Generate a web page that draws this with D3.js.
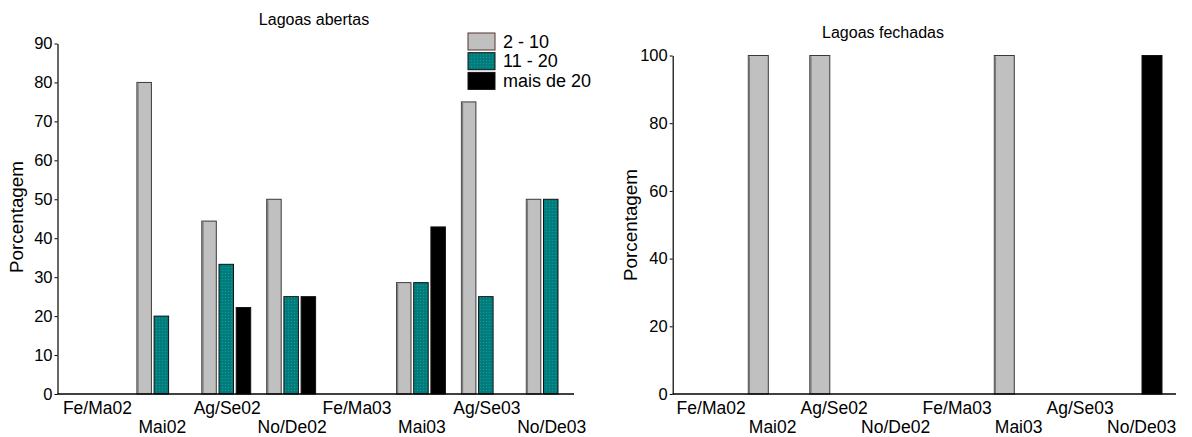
<!DOCTYPE html>
<html>
<head>
<meta charset="utf-8">
<script src="https://cdn.jsdelivr.net/npm/d3@7"></script>
<style>
  html, body { margin: 0; padding: 0; background: #fff; }
  svg { display: block; font-family: "Liberation Sans", Arial, sans-serif; }
</style>
</head>
<body>
<svg id="chart" width="1192" height="437"></svg>
<script>
// ---- data ----
const categories = ["Fe/Ma02", "Mai02", "Ag/Se02", "No/De02", "Fe/Ma03", "Mai03", "Ag/Se03", "No/De03"];
const seriesNames = ["2 - 10", "11 - 20", "mais de 20"];
const abertas2a10 = [0, 80, 44.4, 50, 0, 28.6, 75, 50];
const abertas11a20 = [0, 20, 33.3, 25, 0, 28.6, 25, 50];
const abertasMais20 = [0, 0, 22.2, 25, 0, 42.9, 0, 0];
const fechadas2a10 = [0, 100, 100, 0, 0, 100, 0, 0];
const fechadasMais20 = [0, 0, 0, 0, 0, 0, 0, 100];
const leftTicks = [0, 10, 20, 30, 40, 50, 60, 70, 80, 90];
const rightTicks = [0, 20, 40, 60, 80, 100];
const titles = ["Lagoas abertas", "Lagoas fechadas"];
const yLabel = "Porcentagem";

const colors = { "2 - 10": "#c0c0c0", "11 - 20": "url(#teal)", "mais de 20": "#000000" };

const svg = d3.select("#chart");
const defs = svg.append("defs");
const pat = defs.append("pattern").attr("id", "teal").attr("width", 3).attr("height", 3)
  .attr("patternUnits", "userSpaceOnUse");
pat.append("rect").attr("width", 3).attr("height", 3).attr("fill", "#007f7f");
pat.append("rect").attr("width", 1).attr("height", 1).attr("fill", "#1a9494");
pat.append("rect").attr("x", 1.5).attr("y", 1.5).attr("width", 1).attr("height", 1).attr("fill", "#006a6a");

function drawPanel(cfg) {
  const g = svg.append("g");
  const x = d3.scaleBand().domain(categories).range([cfg.x0, cfg.x0 + cfg.step * categories.length]).padding(0);
  const x1 = d3.scaleBand().domain(cfg.series.map(s => s.name))
    .range([cfg.inner0, cfg.inner0 + cfg.pitch * (cfg.series.length - 1) + cfg.barW])
    .paddingInner(1 - cfg.barW / cfg.pitch).paddingOuter(0);
  const y = d3.scaleLinear().domain(cfg.domain).range([cfg.yBase, cfg.yTop]);

  // bars
  cfg.series.forEach(s => {
    const data = categories.map((c, i) => ({ c, v: s.values[i] })).filter(d => d.v > 0);
    g.selectAll(null).data(data).enter().append("rect")
      .attr("x", d => x(d.c) + x1(s.name))
      .attr("y", d => y(d.v))
      .attr("width", x1.bandwidth())
      .attr("height", d => y(0) - y(d.v))
      .attr("fill", colors[s.name])
      .attr("stroke", s.name === "2 - 10" ? "#3a3a3a" : "#111")
      .attr("stroke-width", 1);
    if (s.name === "2 - 10") {
      g.selectAll(null).data(data).enter().append("line")
        .attr("x1", d => x(d.c) + x1(s.name) + 1)
        .attr("x2", d => x(d.c) + x1(s.name) + 1)
        .attr("y1", d => y(d.v) + 1).attr("y2", y(0))
        .attr("stroke", "#7a7a7a").attr("stroke-width", 1.5);
    }
  });

  // y axis
  const yAxis = d3.axisLeft(y).tickValues(cfg.ticks).tickSize(3).tickPadding(2).tickSizeOuter(0);
  const ya = g.append("g").attr("transform", `translate(${cfg.x0},0)`).call(yAxis);
  ya.select(".domain").attr("stroke", "#000").attr("stroke-width", 1.2);
  ya.selectAll(".tick line").attr("stroke", "#000");
  ya.selectAll("text").attr("font-size", 16.5).attr("fill", "#000").attr("font-family", "'Liberation Sans', Arial, sans-serif");

  // x axis line
  g.append("line").attr("x1", cfg.x0).attr("x2", cfg.xEnd).attr("y1", y(0)).attr("y2", y(0))
    .attr("stroke", "#000").attr("stroke-width", 1.5);

  // x labels, alternating rows
  const groupCenter = cfg.inner0 + (cfg.pitch * (cfg.series.length - 1) + cfg.barW) / 2;
  g.selectAll(null).data(categories).enter().append("text")
    .attr("x", d => x(d) + groupCenter + cfg.labShift)
    .attr("y", (d, i) => i % 2 === 0 ? cfg.row1 : cfg.row2)
    .attr("text-anchor", "middle").attr("font-size", 17.5).attr("fill", "#000")
    .text(d => d);

  // title
  g.append("text").attr("x", cfg.titleX).attr("y", cfg.titleY).attr("text-anchor", "middle")
    .attr("font-size", 16).attr("fill", "#000").text(cfg.title);

  // y label
  g.append("text").attr("transform", `translate(${cfg.ylabX},${cfg.ylabY}) rotate(-90)`)
    .attr("text-anchor", "middle").attr("font-size", 18).attr("fill", "#000")
    .attr("textLength", 112).attr("lengthAdjust", "spacingAndGlyphs").text(yLabel);
  return g;
}

drawPanel({
  x0: 57.5, step: 64.9, xEnd: 574, inner0: 14.5, pitch: 17.2, barW: 14.5, labShift: 1,
  series: [
    { name: seriesNames[0], values: abertas2a10 },
    { name: seriesNames[1], values: abertas11a20 },
    { name: seriesNames[2], values: abertasMais20 }
  ],
  domain: [0, 90], yBase: 394, yTop: 43.5, ticks: leftTicks,
  row1: 414, row2: 433, title: titles[0], titleX: 314, titleY: 25,
  ylabX: 23, ylabY: 217
});

drawPanel({
  x0: 672.7, step: 61.5, xEnd: 1176, inner0: 14.1, pitch: 24.7, barW: 20, labShift: 2,
  series: [
    { name: seriesNames[0], values: fechadas2a10 },
    { name: seriesNames[2], values: fechadasMais20 }
  ],
  domain: [0, 100], yBase: 394, yTop: 55.5, ticks: rightTicks,
  row1: 414, row2: 433, title: titles[1], titleX: 883, titleY: 38,
  ylabX: 637, ylabY: 225
});

// legend
const legend = svg.append("g").attr("transform", "translate(468,33)");
seriesNames.forEach((s, i) => {
  legend.append("rect").attr("x", 0).attr("y", i * 19.7).attr("width", 27).attr("height", 17)
    .attr("fill", colors[s]).attr("stroke", i === 0 ? "#5a3030" : "#111").attr("stroke-width", 1);
  legend.append("text").attr("x", 35).attr("y", i * 19.7 + 14.5).attr("font-size", 18)
    .attr("fill", "#000").text(s);
});
</script>
</body>
</html>
